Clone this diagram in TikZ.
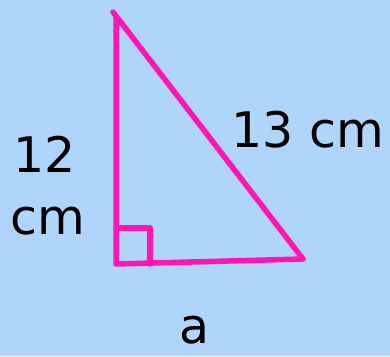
\documentclass[tikz,border=0pt]{standalone}
\usepackage{fontspec}
\setmainfont{DejaVu Sans}
\definecolor{bgblue}{RGB}{175,213,250}
\definecolor{mag}{RGB}{255,20,180}
\begin{document}
\begin{tikzpicture}[x=1pt,y=-1pt,
  side/.style={draw=mag,line width=5.5pt,line cap=round,line join=round},
  lbl/.style={anchor=base,inner sep=0pt,font=\fontsize{49}{52}\selectfont}]
\fill[bgblue] (0,0) rectangle (390,356);
\useasboundingbox (0,0) rectangle (390,356);
\coordinate (T) at (116,18);
\coordinate (Tx) at (113,12);
\coordinate (B) at (116,264);
\coordinate (R) at (303,259);
\draw[side] (T) -- (B) -- (R);
\draw[side] (Tx) -- (R);
\draw[side] (116,228) -- (150,228) -- (150,264);
\node[lbl] (n12) at (45,172) {12};
\node[lbl] (ncm) at (48,234) {cm};
\node[lbl] (n13) at (308,147) {13 cm};
\node[lbl] (na) at (195,343) {a};
\end{tikzpicture}
\end{document}
